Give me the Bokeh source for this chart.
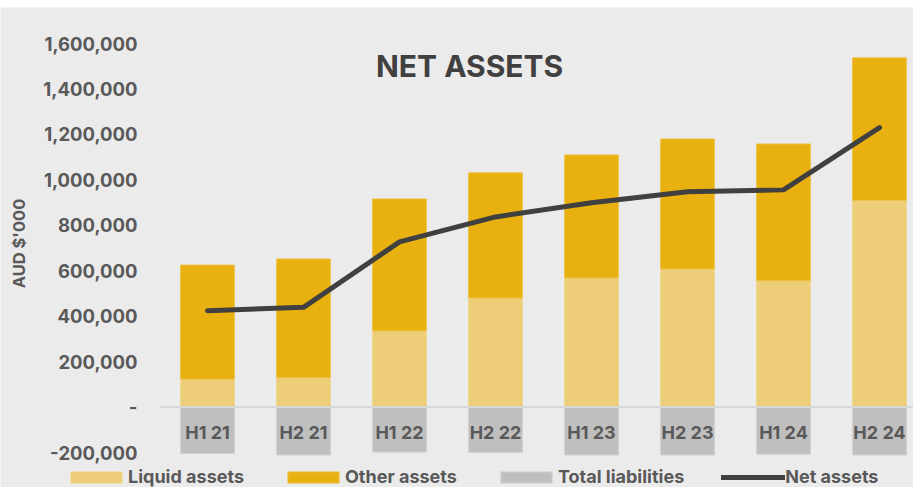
import math
from bokeh.plotting import figure
from bokeh.models import (Legend, LegendItem, Label, Range1d, ColumnDataSource)
from bokeh.core.properties import value
from bokeh.embed import file_html
from bokeh.resources import INLINE

periods = ["H1 21", "H2 21", "H1 22", "H2 22", "H1 23", "H2 23", "H1 24", "H2 24"]
liquid_assets = [123000, 129000, 335000, 480000, 568000, 608000, 556000, 909000]
other_assets = [502000, 523000, 581000, 551000, 542000, 572000, 602000, 628000]
total_liabilities = [-204000, -211000, -198000, -200000, -211000, -211000, -207000, -211000]
net_assets = [424000, 439000, 727000, 837000, 899000, 948000, 956000, 1230000]
y_ticks = [-200000, 0, 200000, 400000, 600000, 800000, 1000000, 1200000, 1400000, 1600000]
y_tick_labels = ["-" if v == 0 else f"{v:,}" for v in y_ticks]
series_names = ["Liquid assets", "Other assets", "Total liabilities", "Net assets"]
y_axis_title = "AUD $'000"
chart_title = "NET ASSETS"

idx = list(range(len(periods)))
asset_tops = [a + b for a, b in zip(liquid_assets, other_assets)]

src = ColumnDataSource(dict(
    x=idx, period=periods, liquid=liquid_assets, other_top=asset_tops,
    liab=total_liabilities, net=net_assets, zero=[0] * len(idx),
))

FONT = "Inter"
TXT = "#595959"
BG = "#ebebeb"
C_LIQ, C_OTH, C_LIAB, C_NET = "#edcd77", "#e9b10f", "#bfbfbf", "#404040"

# plot area: category slots of 96px starting 159px from the left edge
x_start = idx[0] - 0.5 - 159 / 96
x_end = x_start + 913 / 96
p = figure(width=913, height=487, output_backend="svg", toolbar_location=None,
           x_range=Range1d(x_start, x_end), y_range=Range1d(-353800, 1758600),
           x_axis_location=None, y_axis_location=None,
           min_border_left=0, min_border_right=0, min_border_top=7, min_border_bottom=0,
           background_fill_color=BG, border_fill_color="white",
           outline_line_color=None)
p.xgrid.visible = False
p.ygrid.visible = False

area_left = idx[0] - 0.5

# value axis labels (placed through the y scale)
tick_src = ColumnDataSource(dict(x=[area_left] * len(y_ticks), y=y_ticks, label=y_tick_labels))
p.text(x="x", y="y", text="label", source=tick_src, x_offset=-22,
       text_align="right", text_baseline="middle",
       text_font=value(FONT), text_font_size="18.5px", text_font_style="bold",
       text_color=TXT)
p.add_layout(Label(x=18, y=244, x_units="screen", y_units="screen", angle=math.pi / 2,
                   text=y_axis_title, text_align="center", text_baseline="middle",
                   text_font=FONT, text_font_size="16.5px", text_font_style="bold",
                   text_color=TXT))

w = 0.56
r_liq = p.vbar(x="x", bottom="zero", top="liquid", width=w, source=src,
               fill_color=C_LIQ, line_color="#f0d98f", line_width=1)
r_oth = p.vbar(x="x", bottom="liquid", top="other_top", width=w, source=src,
               fill_color=C_OTH, line_color="#ecc04a", line_width=1)
r_liab = p.vbar(x="x", bottom="liab", top="zero", width=w, source=src,
                fill_color=C_LIAB, line_color="#d0d0d0", line_width=1)

# zero baseline across the plot area
p.segment(x0=[area_left], y0=[0], x1=[x_end], y1=[0], line_color="#d9d9d9", line_width=2)

p.text(x="x", y="zero", text="period", source=src, y_offset=25,
       text_align="center", text_baseline="middle",
       text_font=value(FONT), text_font_size="18px", text_font_style="bold",
       text_color=TXT)

r_net = p.line(x="x", y="net", source=src, line_width=5, line_color=C_NET,
               line_cap="round", line_join="round")

p.add_layout(Label(x=2.73, y=1503000, text=chart_title, text_align="center",
                   text_baseline="middle", text_font=FONT, text_font_size="30px",
                   text_font_style="bold", text_color="#404040"))

legend = Legend(items=[LegendItem(label=n, renderers=[r])
                       for n, r in zip(series_names, [r_liq, r_oth, r_liab, r_net])],
                orientation="horizontal", location=(64, 0),
                background_fill_alpha=0, border_line_color=None,
                label_text_font=FONT, label_text_font_size="18px", label_text_font_style="bold",
                label_text_color=TXT, glyph_width=64, glyph_height=14, spacing=37,
                padding=0, margin=0, label_standoff=0, label_height=20)
p.add_layout(legend)

open("out.html", "w").write(file_html(p, INLINE))
